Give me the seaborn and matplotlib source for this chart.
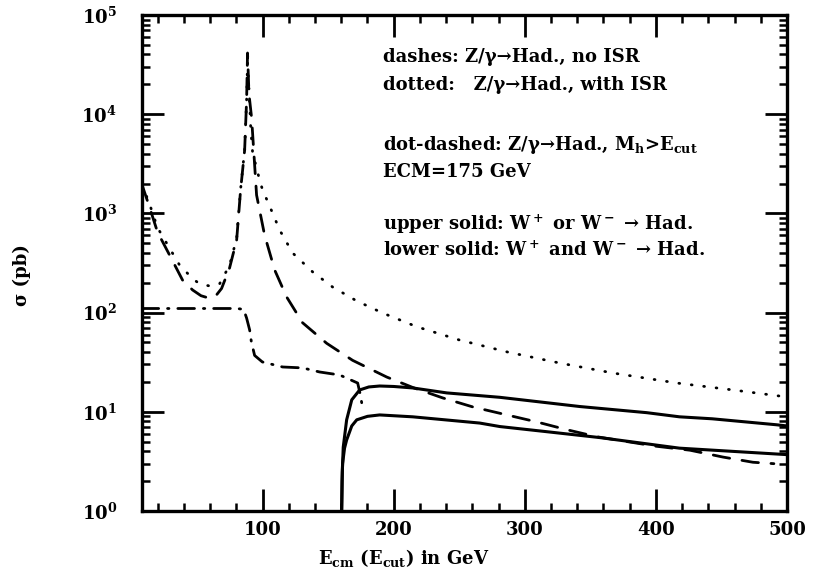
import pandas as pd
import seaborn as sns
import matplotlib
matplotlib.use("Agg")
import matplotlib.pyplot as plt
from matplotlib.ticker import MultipleLocator, LogLocator, NullFormatter

# valores (E em GeV, sigma em pb)
dashed_E = [8, 13.7, 19.8, 29, 38.9, 46.6, 53, 59, 64, 68.7, 74.8, 80.2, 83.2, 86.3,
            87.8, 88.5, 89.6, 91.6, 95.4, 101.5, 109.2, 118.3, 130.5, 148.9, 168.7,
            194.7, 215, 237.4, 260.3, 286.3, 309.2, 332, 355, 400, 426, 451, 474, 490]
dashed_sig = [1950, 1160, 650, 381, 213, 169, 148, 140, 146, 175, 282, 539, 1720, 4350,
              14000, 41400, 16000, 9200, 1530, 605, 269, 144, 79, 49, 33,
              22.4, 17.5, 13.8, 11.2, 9.3, 7.9, 6.6, 5.6, 4.5, 4.1, 3.5, 3.1, 3.0]

dotted_E = [8, 13.7, 19.8, 26.7, 36.6, 46.6, 51.9, 60, 67.2, 74.8, 80.2, 83.2, 86.3,
            87.8, 88.5, 89.6, 91.0, 92.4, 95.4, 97.7, 100, 105.3, 113, 122.9, 138.2,
            153.4, 171.8, 191.6, 217.6, 250, 287, 326.7, 367.2, 416, 458.8, 500]
dotted_sig = [1950, 1250, 720, 503, 302, 220, 195, 185, 195, 300, 560, 1750, 4400,
              14000, 33000, 18000, 7000, 4060, 2870, 2170, 1720, 1190, 680, 399, 257,
              181, 131, 99, 72, 53, 40, 31, 24.6, 19.5, 16.6, 14.1]

dotdash_E = [8, 30, 60, 80, 85.5, 87.8, 90.1, 91.4, 93.9, 99.8, 115.3, 130.5, 143.5,
             158.8, 172.5, 174.5, 175.6]
dotdash_sig = [110, 110, 110, 110, 108, 88, 67, 51, 37, 31.8, 28.3, 27.7, 25.2,
               23.5, 19.5, 15, 12.3]

upper_E = [160.3, 160.8, 161.5, 164.1, 168, 174, 181, 189.3, 200, 214.5, 240.5,
           280.9, 342, 393, 418, 443, 492, 500]
upper_sig = [1.0, 2.5, 4.4, 8.3, 13.2, 16.6, 17.8, 18.2, 18.0, 17.4, 15.5,
             14.0, 11.3, 9.8, 8.9, 8.5, 7.4, 7.2]

lower_E = [160.3, 160.6, 161, 162.5, 164.1, 168, 171.8, 180, 189.3, 214.5, 265.6,
           281, 316.8, 357, 418, 500]
lower_sig = [1.0, 2.0, 3.0, 4.3, 5.2, 7.2, 8.3, 9.0, 9.3, 8.9, 7.7,
             7.1, 6.3, 5.5, 4.3, 3.7]

x_ticks = [100, 200, 300, 400, 500]
y_ticks = [1, 10, 100, 1000, 10000, 100000]
y_ticklabels = [r"$\mathbf{10^{%d}}$" % i for i in range(6)]

legenda = [
    "dashes: Z/γ→Had., no ISR",
    "dotted:   Z/γ→Had., with ISR",
    "dot-dashed: Z/γ→Had., $M_h$>$E_{cut}$",
    "ECM=175 GeV",
    "upper solid: $W^+$ or $W^-$ → Had.",
    "lower solid: $W^+$ and $W^-$ → Had.",
]
legenda_y = [57, 85, 145, 172, 224, 250]

# estilo
sns.set_style("ticks")
plt.rcParams["font.family"] = ["DejaVu Serif"]
plt.rcParams["font.weight"] = "bold"
plt.rcParams["mathtext.fontset"] = "dejavuserif"
plt.rcParams["mathtext.default"] = "bf"
for k in ["text.color", "axes.labelcolor", "xtick.color", "ytick.color", "axes.edgecolor"]:
    plt.rcParams[k] = "black"

fig = plt.figure(figsize=(8.18, 5.70), dpi=100)
ax = fig.add_axes([142 / 818, 1 - 511 / 570, (787 - 142) / 818, (511 - 15) / 570])
ax.set_yscale("log")

curvas = [
    (dashed_E, dashed_sig, (0, (6, 4.5)), 2.0),
    (dotted_E, dotted_sig, (0, (0.3, 4.2)), 2.0),
    (dotdash_E, dotdash_sig, (0, (6, 3.2, 0.5, 3.2)), 2.0),
    (upper_E, upper_sig, "-", 2.2),
    (lower_E, lower_sig, "-", 2.2),
]
for E, s, ls, lw in curvas:
    df = pd.DataFrame({"E": E, "sigma": s})
    sns.lineplot(data=df, x="E", y="sigma", ax=ax, color="black", lw=lw,
                 linestyle=ls, estimator=None, sort=False,
                 dash_capstyle="round", solid_capstyle="round")

ax.set_xlim(8, 500)
ax.set_ylim(1, 1e5)

ax.set_xticks(x_ticks)
ax.set_xticklabels([str(t) for t in x_ticks])
ax.xaxis.set_minor_locator(MultipleLocator(20))
ax.set_yticks(y_ticks)
ax.set_yticklabels(y_ticklabels)
ax.yaxis.set_minor_locator(LogLocator(base=10, subs=range(2, 10)))
ax.yaxis.set_minor_formatter(NullFormatter())

ax.tick_params(which="major", direction="in", length=16, width=2,
               top=True, right=True, labelsize=13)
ax.tick_params(axis="x", which="major", pad=7)
ax.tick_params(axis="y", which="major", pad=18)
ax.tick_params(which="minor", direction="in", length=6, width=1.8,
               top=True, right=True)
for sp in ax.spines.values():
    sp.set_linewidth(2.4)

ax.set_xlabel("$E_{cm}$ ($E_{cut}$) in GeV", fontsize=13, fontweight="bold")
ax.set_ylabel("σ (pb)", fontsize=13, fontweight="bold")
ax.xaxis.set_label_coords(0.405, -0.072)
ax.yaxis.set_label_coords(-0.172, 0.475)

for txt, yy in zip(legenda, legenda_y):
    fig.text(383 / 818, 1 - yy / 570, txt, fontsize=13, fontweight="bold",
             va="center", ha="left")

fig.savefig("out.png", dpi=100)
